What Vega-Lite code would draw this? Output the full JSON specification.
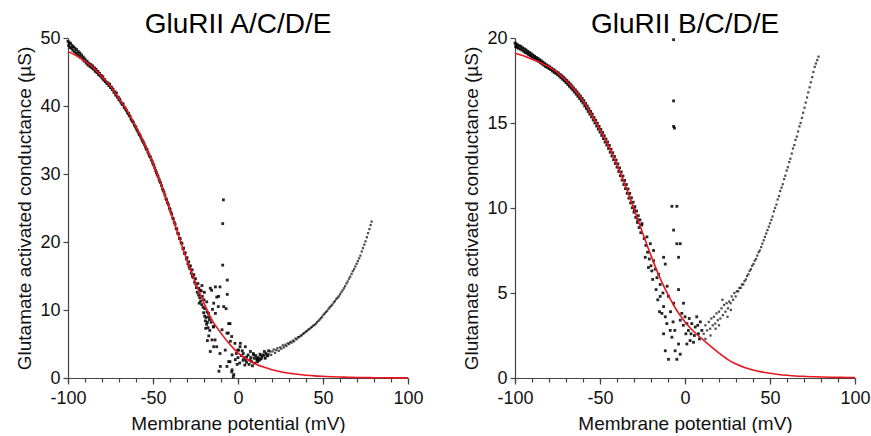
{
"$schema":"https://vega.github.io/schema/vega-lite/v6.json",
"padding":{"left":15,"top":11,"right":2,"bottom":0},
"background":"white",
"spacing":38,
"config":{
"view":{"stroke":null},
"font":"Liberation Sans",
"axis":{"grid":false,"domainColor":"#444","tickColor":"#444","domainWidth":1.2,"tickWidth":1.2,"labelColor":"#111","titleColor":"#111","labelFont":"Liberation Sans","titleFont":"Liberation Sans","labelFontSize":18,"titleFontSize":19,"titleFontWeight":"normal","tickSize":5,"labelFlush":false,"labelOverlap":false},
"title":{"fontSize":28,"fontWeight":"normal","font":"Liberation Sans","color":"#000","offset":-10,"anchor":"middle"}
},
"datasets":{
"fitA":[{"v":-100,"g":48.0},{"v":-95,"g":47.4},{"v":-90,"g":46.6},{"v":-85,"g":45.6},{"v":-80,"g":44.3},{"v":-75,"g":42.9},{"v":-70,"g":41.1},{"v":-65,"g":39.2},{"v":-60,"g":36.9},{"v":-55,"g":34.4},{"v":-50,"g":31.6},{"v":-45,"g":28.3},{"v":-40,"g":24.7},{"v":-35,"g":21.0},{"v":-30,"g":17.3},{"v":-25,"g":14.0},{"v":-20,"g":11.0},{"v":-15,"g":8.4},{"v":-10,"g":6.6},{"v":-5,"g":5.0},{"v":0,"g":3.7},{"v":5,"g":2.8},{"v":10,"g":2.1},{"v":15,"g":1.6},{"v":20,"g":1.22},{"v":25,"g":0.93},{"v":30,"g":0.71},{"v":35,"g":0.54},{"v":40,"g":0.41},{"v":45,"g":0.31},{"v":50,"g":0.24},{"v":55,"g":0.18},{"v":60,"g":0.14},{"v":65,"g":0.1},{"v":70,"g":0.078},{"v":75,"g":0.058},{"v":80,"g":0.044},{"v":85,"g":0.033},{"v":90,"g":0.025},{"v":95,"g":0.019},{"v":100,"g":0.014}],
"fitB":[{"v":-100,"g":19.1},{"v":-95,"g":18.95},{"v":-90,"g":18.75},{"v":-85,"g":18.55},{"v":-80,"g":18.3},{"v":-75,"g":17.95},{"v":-70,"g":17.5},{"v":-65,"g":16.95},{"v":-60,"g":16.3},{"v":-55,"g":15.5},{"v":-50,"g":14.6},{"v":-45,"g":13.65},{"v":-40,"g":12.55},{"v":-35,"g":11.3},{"v":-30,"g":9.95},{"v":-25,"g":8.55},{"v":-20,"g":7.2},{"v":-15,"g":5.95},{"v":-10,"g":4.9},{"v":-5,"g":4.0},{"v":0,"g":3.3},{"v":5,"g":2.75},{"v":10,"g":2.3},{"v":15,"g":1.88},{"v":20,"g":1.47},{"v":25,"g":1.1},{"v":30,"g":0.82},{"v":35,"g":0.62},{"v":40,"g":0.47},{"v":45,"g":0.36},{"v":50,"g":0.28},{"v":55,"g":0.21},{"v":60,"g":0.16},{"v":65,"g":0.12},{"v":70,"g":0.095},{"v":75,"g":0.075},{"v":80,"g":0.06},{"v":85,"g":0.048},{"v":90,"g":0.04},{"v":95,"g":0.033},{"v":100,"g":0.028}],
"ptsA":[
{"v":-100,"g":49.5},{"v":-99.6,"g":48.9},{"v":-99.2,"g":49.3},{"v":-98.8,"g":48.6},{"v":-98.5,"g":49.2},{"v":-98,"g":48.5},{"v":-97.6,"g":48.9},{"v":-97.2,"g":48.2},{"v":-96.8,"g":48.7},{"v":-96.3,"g":48.0},{"v":-95.9,"g":48.5},{"v":-95.4,"g":47.8},{"v":-95,"g":48.3},{"v":-94.5,"g":47.6},{"v":-94,"g":48.0},{"v":-93.4,"g":47.4},{"v":-93,"g":47.8},{"v":-92.5,"g":47.1},{"v":-92,"g":47.5},{"v":-91.4,"g":46.9},{"v":-91,"g":47.2},{"v":-90.5,"g":46.6},{"v":-90,"g":46.9},{"v":-89.3,"g":46.3},{"v":-88.8,"g":46.6},{"v":-88.2,"g":46.0},{"v":-87.7,"g":46.3},{"v":-87,"g":45.8},{"v":-86.6,"g":46.1},{"v":-86,"g":45.6},{"v":-85.5,"g":45.9},{"v":-85,"g":45.4},{"v":-84.4,"g":45.6},{"v":-84,"g":45.1},{"v":-83.5,"g":45.4},{"v":-83,"g":44.9},{"v":-82.4,"g":45.1},{"v":-82,"g":44.6},{"v":-81.5,"g":44.8},{"v":-81,"g":44.4},{"v":-80.4,"g":44.5},{"v":-80,"g":44.1},{"v":-79.5,"g":44.3},{"v":-79,"g":43.8},{"v":-78.4,"g":43.9},{"v":-78,"g":43.6},{"v":-77.5,"g":43.5},{"v":-77,"g":43.3},{"v":-76.5,"g":43.4},{"v":-76,"g":43.0},{"v":-75.5,"g":43.2},{"v":-75,"g":42.7},{"v":-74.5,"g":42.8},{"v":-74,"g":42.4},{"v":-73.5,"g":42.5},{"v":-73,"g":42.0},{"v":-72.4,"g":42.1},{"v":-72,"g":41.6},{"v":-71.5,"g":41.9},{"v":-71,"g":41.3},{"v":-70.4,"g":41.3},{"v":-70,"g":40.9},{"v":-69.5,"g":41.0},{"v":-69,"g":40.6},{"v":-68.4,"g":40.4},{"v":-68,"g":40.2},{"v":-67.5,"g":40.3},{"v":-67,"g":39.8},{"v":-66.4,"g":39.7},{"v":-66,"g":39.5},{"v":-65.5,"g":39.3},{"v":-65,"g":39.0},{"v":-64.4,"g":38.9},{"v":-64,"g":38.6},{"v":-63.5,"g":38.5},{"v":-63,"g":38.1},{"v":-62.4,"g":37.9},{"v":-62,"g":37.7},{"v":-61.5,"g":37.6},{"v":-61,"g":37.2},{"v":-60.4,"g":37.0},{"v":-60,"g":36.8},{"v":-59.5,"g":36.5},{"v":-59,"g":36.3},{"v":-58.4,"g":36.0},{"v":-58,"g":35.8},{"v":-57.5,"g":35.6},{"v":-57,"g":35.3},{"v":-56.4,"g":35.0},{"v":-56,"g":34.8},{"v":-55.5,"g":34.6},{"v":-55,"g":34.3},{"v":-54.4,"g":34.0},{"v":-54,"g":33.7},{"v":-53.5,"g":33.6},{"v":-53,"g":33.2},{"v":-52.4,"g":32.9},{"v":-52,"g":32.6},{"v":-51.5,"g":32.5},{"v":-51,"g":32.1},{"v":-50.4,"g":31.8},{"v":-50,"g":31.5},{"v":-49.5,"g":31.3},{"v":-49,"g":30.9},{"v":-48.4,"g":30.5},{"v":-48,"g":30.2},{"v":-47.5,"g":29.9},{"v":-47,"g":29.6},{"v":-46.4,"g":29.2},{"v":-46,"g":28.9},{"v":-45.5,"g":28.7},{"v":-45,"g":28.3},{"v":-44.4,"g":27.8},{"v":-44,"g":27.6},{"v":-43.5,"g":27.3},{"v":-43,"g":26.9},{"v":-42.4,"g":26.4},{"v":-42,"g":26.2},{"v":-41.5,"g":25.8},{"v":-41,"g":25.5},{"v":-40.4,"g":25.0},{"v":-40,"g":24.8},{"v":-39.5,"g":24.4},{"v":-39,"g":24.1},{"v":-38.4,"g":23.5},{"v":-38,"g":23.4},{"v":-37.5,"g":22.9},{"v":-37,"g":22.6},{"v":-36.4,"g":22.0},{"v":-36,"g":21.9},{"v":-35.5,"g":21.3},{"v":-35,"g":21.2},{"v":-34.4,"g":20.5},{"v":-34,"g":20.5},{"v":-33.5,"g":19.9},{"v":-33,"g":19.8},{"v":-32.4,"g":19.0},{"v":-32,"g":19.1},{"v":-31.5,"g":18.3},{"v":-31,"g":18.4},{"v":-30.4,"g":17.5},{"v":-30,"g":17.7},{"v":-29.5,"g":16.8},{"v":-29,"g":17.1},{"v":-28.4,"g":16.1},{"v":-28.8,"g":16.4},{"v":-28,"g":16.5},{"v":-27.5,"g":15.4},{"v":-27,"g":15.9},{"v":-26.4,"g":14.8},{"v":-26.8,"g":15.0},{"v":-26,"g":15.2},{"v":-25.5,"g":14.1},{"v":-25,"g":14.6},{"v":-24.5,"g":13.3},{"v":-24.8,"g":13.8},
{"v":-24,"g":12.6},{"v":-23.6,"g":13.9},{"v":-23.2,"g":12.2},{"v":-23,"g":13.2},{"v":-22.5,"g":11.8},{"v":-22.2,"g":12.9},{"v":-22,"g":11.3},{"v":-21.6,"g":12.8},{"v":-21.3,"g":10.8},{"v":-21,"g":12.0},{"v":-20.5,"g":10.4},{"v":-20.2,"g":9.6},{"v":-20,"g":11.5},{"v":-19.6,"g":9.1},{"v":-19.2,"g":8.4},{"v":-19.5,"g":10.2},{"v":-18.8,"g":8.9},{"v":-18.5,"g":7.9},{"v":-18.2,"g":9.7},{"v":-18,"g":8.2},{"v":-17.6,"g":7.4},{"v":-17.3,"g":9.0},
{"v":-22.8,"g":11.0},{"v":-21.2,"g":13.6},{"v":-19.8,"g":12.6},{"v":-18.4,"g":11.2},{"v":-17.2,"g":6.2},{"v":-16.6,"g":7.0},{"v":-15.8,"g":8.2},{"v":-15,"g":10.1},{"v":-18,"g":5.5},{"v":-16.8,"g":8.6},{"v":-19,"g":7.3},
{"v":-16.3,"g":13.2},{"v":-13.3,"g":13.4},{"v":-11.4,"g":12.0},{"v":-8.4,"g":10.5},{"v":-14.3,"g":11.0},{"v":-17.3,"g":9.5},{"v":-13.3,"g":9.5},{"v":-14.3,"g":7.6},{"v":-15.3,"g":5.6},{"v":-14.3,"g":4.6},{"v":-16.3,"g":3.9},{"v":-9.4,"g":7.1},{"v":-5.5,"g":8.0},{"v":-6.5,"g":6.6},{"v":-4.5,"g":5.4},{"v":-7.5,"g":4.1},{"v":-3.5,"g":3.4},{"v":-6.5,"g":1.7},{"v":-10.4,"g":1.7},{"v":-3.5,"g":1.2},{"v":-2.5,"g":0.5},{"v":-5.5,"g":2.4},{"v":-1.6,"g":2.7},{"v":0.4,"g":4.1},{"v":1.4,"g":5.1},{"v":4.3,"g":4.6},{"v":7.3,"g":3.9},{"v":9.2,"g":3.4},{"v":11.2,"g":2.7},
{"v":-15.5,"g":12.9},{"v":-10.6,"g":13.4},{"v":-12.5,"g":11.9},{"v":-11.6,"g":10.5},{"v":-14.5,"g":7.5},{"v":-13.5,"g":5.6},{"v":-12.5,"g":4.6},{"v":-10.6,"g":3.6},{"v":-11.2,"g":1.0},{"v":-4.7,"g":2.4},{"v":-3.7,"g":0.9},{"v":-2.8,"g":0.2},{"v":-4.7,"g":8.0},{"v":-5.7,"g":6.6},{"v":-3.7,"g":6.1},{"v":-1.8,"g":5.1},{"v":-0.2,"g":4.1},{"v":3.1,"g":3.6},{"v":7.1,"g":2.6},{"v":11,"g":2.9},{"v":14.9,"g":3.4},{"v":9.0,"g":3.6},{"v":5.1,"g":3.1},{"v":1.2,"g":4.6},
{"v":-8.6,"g":26.2},{"v":-9.0,"g":22.7},{"v":-9.0,"g":16.6},{"v":-6.3,"g":14.4},{"v":-6.3,"g":12.3},{"v":-7.0,"g":10.2},
{"v":0,"g":3.0},{"v":1,"g":2.2},{"v":2,"g":3.3},{"v":3,"g":2.6},{"v":4,"g":1.9},{"v":5,"g":2.3},{"v":6,"g":3.4},{"v":6.5,"g":2.0},{"v":7.5,"g":3.0},{"v":8,"g":2.4},{"v":8.5,"g":1.8},{"v":9.5,"g":2.9},{"v":10,"g":2.2},{"v":10.5,"g":3.3},{"v":11.5,"g":2.4},{"v":12,"g":3.0},{"v":12.5,"g":2.6},{"v":13,"g":3.5},{"v":13.5,"g":2.8},{"v":14,"g":3.2},{"v":15.5,"g":3.9},{"v":16,"g":2.9},{"v":16.5,"g":3.5},{"v":17.5,"g":3.3},{"v":18,"g":4.0},{"v":-1,"g":3.6},{"v":-0.5,"g":2.0},{"v":2.5,"g":4.0},{"v":3.5,"g":3.0},{"v":4.5,"g":2.7}
],
"branchA":[
{"v":12,"g":2.7},{"v":13,"g":3.4},{"v":14,"g":2.9},{"v":15,"g":3.3},{"v":15.8,"g":3.0},{"v":16.5,"g":3.7},{"v":17.2,"g":3.2},{"v":18,"g":3.5},{"v":18.8,"g":3.9},{"v":19.5,"g":3.4},{"v":20.2,"g":3.9},{"v":21,"g":4.2},{"v":21.8,"g":3.7},{"v":22.5,"g":4.1},{"v":23.2,"g":4.4},{"v":24,"g":4.0},{"v":24.8,"g":4.5},{"v":25.5,"g":4.3},{"v":26.3,"g":4.8},{"v":27,"g":4.5},{"v":27.8,"g":4.9},{"v":28.5,"g":4.7},{"v":29.3,"g":5.1},{"v":30,"g":5.0},{"v":30.8,"g":5.3},{"v":31.5,"g":5.2},{"v":32.3,"g":5.5},{"v":33,"g":5.4},{"v":33.8,"g":5.8},{"v":34.5,"g":5.7},{"v":35.3,"g":6.0},{"v":36,"g":6.0},{"v":36.8,"g":6.2},{"v":37.5,"g":6.3},{"v":38.3,"g":6.5},{"v":39,"g":6.6},{"v":39.8,"g":6.8},{"v":40.5,"g":6.9},{"v":41.3,"g":7.1},{"v":42,"g":7.2},{"v":42.8,"g":7.4},{"v":43.5,"g":7.5},{"v":44.3,"g":7.7},{"v":45,"g":7.8},{"v":45.8,"g":8.0},{"v":46.5,"g":8.2},{"v":47.3,"g":8.4},{"v":48,"g":8.6},{"v":48.8,"g":8.8},{"v":49.5,"g":9.0},{"v":50.3,"g":9.3},{"v":51,"g":9.5},{"v":51.8,"g":9.7},{"v":52.5,"g":9.9},{"v":53.3,"g":10.2},{"v":54,"g":10.4},{"v":54.8,"g":10.6},{"v":55.5,"g":10.8},{"v":56.3,"g":11.1},{"v":57,"g":11.3},{"v":57.8,"g":11.6},{"v":58.5,"g":11.8},{"v":59.3,"g":12.0},{"v":60,"g":12.3},{"v":60.8,"g":12.6},{"v":61.5,"g":12.9},{"v":62.3,"g":13.2},{"v":63,"g":13.5},{"v":63.8,"g":13.9},{"v":64.5,"g":14.2},{"v":65.3,"g":14.6},{"v":66,"g":14.9},{"v":66.8,"g":15.3},{"v":67.5,"g":15.7},{"v":68.3,"g":16.0},{"v":69,"g":16.4},{"v":69.8,"g":16.8},{"v":70.5,"g":17.2},{"v":71.3,"g":17.6},{"v":72,"g":18.0},{"v":72.8,"g":18.6},{"v":73.5,"g":19.1},{"v":74.3,"g":19.6},{"v":75,"g":20.1},{"v":75.8,"g":20.7},{"v":76.5,"g":21.3},{"v":77.3,"g":21.9},{"v":78,"g":22.5},{"v":78.6,"g":23.0}
],
"ptsB":[
{"v":-100,"g":19.7},{"v":-99.6,"g":19.5},{"v":-99.3,"g":19.65},{"v":-99,"g":19.45},{"v":-98.6,"g":19.6},{"v":-98,"g":19.4},{"v":-97.5,"g":19.55},{"v":-97,"g":19.35},{"v":-96.5,"g":19.5},{"v":-96,"g":19.3},{"v":-95.5,"g":19.42},{"v":-95,"g":19.22},{"v":-94.5,"g":19.36},{"v":-94,"g":19.15},{"v":-93.5,"g":19.3},{"v":-93,"g":19.1},{"v":-92.5,"g":19.22},{"v":-92,"g":19.02},{"v":-91.5,"g":19.15},{"v":-91,"g":18.96},{"v":-90.5,"g":19.08},{"v":-90,"g":18.88},{"v":-89.5,"g":19.0},{"v":-89,"g":18.82},{"v":-88.5,"g":18.93},{"v":-88,"g":18.75},{"v":-87.5,"g":18.86},{"v":-87,"g":18.68},{"v":-86.5,"g":18.8},{"v":-86,"g":18.62},{"v":-85.5,"g":18.72},{"v":-85,"g":18.54},{"v":-84.5,"g":18.66},{"v":-84,"g":18.47},{"v":-83.5,"g":18.58},{"v":-83,"g":18.4},{"v":-82.5,"g":18.5},{"v":-82,"g":18.32},{"v":-81.5,"g":18.42},{"v":-81,"g":18.27},{"v":-80.5,"g":18.36},{"v":-80,"g":18.2},{"v":-79.5,"g":18.3},{"v":-79,"g":18.14},{"v":-78.5,"g":18.22},{"v":-78,"g":18.06},{"v":-77.5,"g":18.15},{"v":-77,"g":17.98},{"v":-76.5,"g":18.08},{"v":-76,"g":17.92},{"v":-75.5,"g":18.0},{"v":-75,"g":17.85},{"v":-74.5,"g":17.95},{"v":-74,"g":17.76},{"v":-73.5,"g":17.86},{"v":-73,"g":17.66},{"v":-72.5,"g":17.78},{"v":-72,"g":17.57},{"v":-71.5,"g":17.7},{"v":-71,"g":17.48},{"v":-70.5,"g":17.6},{"v":-70,"g":17.38},{"v":-69.5,"g":17.5},{"v":-69,"g":17.27},{"v":-68.5,"g":17.4},{"v":-68,"g":17.16},{"v":-67.5,"g":17.3},{"v":-67,"g":17.05},{"v":-66.5,"g":17.18},{"v":-66,"g":16.94},{"v":-65.5,"g":17.06},{"v":-65,"g":16.82},{"v":-64.5,"g":16.95},{"v":-64,"g":16.7},{"v":-63.5,"g":16.83},{"v":-63,"g":16.57},{"v":-62.5,"g":16.7},{"v":-62,"g":16.44},{"v":-61.5,"g":16.58},{"v":-61,"g":16.3},{"v":-60.5,"g":16.45},{"v":-60,"g":16.17},{"v":-59.5,"g":16.32},{"v":-59,"g":16.0},{"v":-58.5,"g":16.15},{"v":-58,"g":15.85},{"v":-57.5,"g":16.0},{"v":-57,"g":15.68},{"v":-56.5,"g":15.84},{"v":-56,"g":15.52},{"v":-55.5,"g":15.68},{"v":-55,"g":15.36},{"v":-54.5,"g":15.52},{"v":-54,"g":15.18},{"v":-53.5,"g":15.33},{"v":-53,"g":15.0},{"v":-52.5,"g":15.16},{"v":-52,"g":14.82},{"v":-51.5,"g":14.98},{"v":-51,"g":14.64},{"v":-50.5,"g":14.8},{"v":-50,"g":14.46},{"v":-49.5,"g":14.62},{"v":-49,"g":14.27},{"v":-48.5,"g":14.44},{"v":-48,"g":14.08},{"v":-47.5,"g":14.25},{"v":-47,"g":13.88},{"v":-46.5,"g":14.06},{"v":-46,"g":13.7},{"v":-45.5,"g":13.88},{"v":-45,"g":13.5},{"v":-44.5,"g":13.68},{"v":-44,"g":13.28},{"v":-43.5,"g":13.46},{"v":-43,"g":13.06},{"v":-42.5,"g":13.25},{"v":-42,"g":12.84},{"v":-41.5,"g":13.03},{"v":-41,"g":12.62},{"v":-40.5,"g":12.82},{"v":-40,"g":12.4},{"v":-39.5,"g":12.6},{"v":-39,"g":12.15},{"v":-38.5,"g":12.36},{"v":-38,"g":11.9},{"v":-37.5,"g":12.12},{"v":-37,"g":11.64},{"v":-36.5,"g":11.88},{"v":-36,"g":11.38},{"v":-35.5,"g":11.62},{"v":-35,"g":11.14},{"v":-34.5,"g":11.38},{"v":-34,"g":10.86},{"v":-33.5,"g":11.12},{"v":-33,"g":10.58},{"v":-32.5,"g":10.86},{"v":-32,"g":10.3},{"v":-31.5,"g":10.6},{"v":-31,"g":10.02},{"v":-30.5,"g":10.34},{"v":-30,"g":9.75},{"v":-29.5,"g":10.08},{"v":-29.8,"g":9.9},{"v":-29,"g":9.45},{"v":-28.5,"g":9.82},{"v":-28,"g":9.15},{"v":-27.5,"g":9.55},{"v":-27.8,"g":9.3},{"v":-27,"g":8.85},{"v":-26.5,"g":9.3},{"v":-26,"g":8.55},{"v":-25.5,"g":9.0},
{"v":-25.3,"g":9.08},{"v":-22.4,"g":8.3},{"v":-20.4,"g":7.9},{"v":-18.5,"g":7.5},{"v":-23.4,"g":7.1},{"v":-18.5,"g":6.9},{"v":-19.5,"g":6.3},{"v":-16.5,"g":5.9},{"v":-14.6,"g":5.5},{"v":-12.6,"g":7.1},{"v":-11.6,"g":6.7},{"v":-14.6,"g":4.8},{"v":-12.6,"g":4.2},{"v":-13.6,"g":3.8},{"v":-11.6,"g":3.6},{"v":-10.7,"g":3.2},{"v":-12.6,"g":2.6},{"v":-8.7,"g":2.8},{"v":-11.6,"g":1.6},{"v":-9.7,"g":1.1},{"v":-4.8,"g":1.1},{"v":-5.8,"g":1.6},{"v":-3.8,"g":2.0},{"v":-2.8,"g":3.4},{"v":-1.9,"g":3.8},{"v":-0.9,"g":4.4},{"v":-3.8,"g":5.2},{"v":1.1,"g":3.2},{"v":2.0,"g":2.8},{"v":4.0,"g":3.2},{"v":3.0,"g":2.2},{"v":6.0,"g":3.0},{"v":6.9,"g":3.6},{"v":7.9,"g":2.6},{"v":5.0,"g":2.1},{"v":1.1,"g":2.0},{"v":9.9,"g":2.8},{"v":-2.8,"g":1.4},{"v":-7.7,"g":2.4},{"v":-6.7,"g":4.4},{"v":-9.7,"g":4.8},{"v":-4.8,"g":7.9},{"v":-3.8,"g":7.1},{"v":-7.7,"g":10.1},{"v":-4.8,"g":10.1},{"v":-6.7,"g":8.7},{"v":-2.8,"g":7.9},
{"v":-24,"g":8.2},{"v":-23,"g":7.8},{"v":-22,"g":7.4},{"v":-21,"g":7.0},{"v":-21.5,"g":6.5},{"v":-20,"g":6.6},{"v":-19,"g":5.8},{"v":-17.5,"g":6.4},{"v":-17,"g":5.2},{"v":-16,"g":4.6},{"v":-15.5,"g":6.1},{"v":-15,"g":3.9},{"v":-13,"g":5.0},{"v":-10.5,"g":5.4},{"v":-8.5,"g":3.9},{"v":-7,"g":3.3},{"v":-6,"g":2.8},{"v":-1,"g":3.1},{"v":0,"g":3.6},{"v":0.5,"g":2.6},{"v":2.5,"g":3.5},{"v":3.5,"g":2.6},{"v":5.5,"g":2.5},{"v":7.5,"g":3.1},{"v":8.5,"g":2.3},{"v":9,"g":3.3},
{"v":-6.7,"g":19.9},{"v":-6.7,"g":16.3},{"v":-6.7,"g":14.8},{"v":-6.2,"g":14.7}
],
"branchB":[
{"v":11,"g":2.6},{"v":12,"g":3.1},{"v":13,"g":2.8},{"v":14,"g":3.3},{"v":14.8,"g":2.9},{"v":15.5,"g":3.5},{"v":16.3,"g":3.1},{"v":17,"g":3.6},{"v":17.8,"g":3.2},{"v":18.5,"g":3.8},{"v":19.3,"g":3.4},{"v":20,"g":3.9},{"v":20.8,"g":3.5},{"v":21.5,"g":4.1},{"v":22.3,"g":3.7},{"v":23,"g":4.3},{"v":23.8,"g":3.9},{"v":24.5,"g":4.4},{"v":25.3,"g":4.1},{"v":26,"g":4.5},{"v":26.8,"g":4.4},{"v":27.5,"g":4.8},{"v":28.3,"g":4.6},{"v":29,"g":5.0},{"v":29.8,"g":4.8},{"v":30.5,"g":5.1},{"v":31.3,"g":5.1},{"v":32,"g":5.3},{"v":32.8,"g":5.3},{"v":33.5,"g":5.5},{"v":34.3,"g":5.5},{"v":35,"g":5.7},{"v":35.8,"g":5.8},{"v":36.5,"g":6.0},{"v":37.3,"g":6.1},{"v":38,"g":6.3},{"v":38.8,"g":6.4},{"v":39.5,"g":6.6},{"v":40.3,"g":6.7},{"v":41,"g":6.9},{"v":41.8,"g":7.0},{"v":42.5,"g":7.2},{"v":43.3,"g":7.4},{"v":44,"g":7.5},{"v":44.8,"g":7.7},{"v":45.5,"g":7.9},{"v":46.3,"g":8.1},{"v":47,"g":8.3},{"v":47.8,"g":8.5},{"v":48.5,"g":8.7},{"v":49.3,"g":8.9},{"v":50,"g":9.1},{"v":50.8,"g":9.3},{"v":51.5,"g":9.5},{"v":52.3,"g":9.8},{"v":53,"g":10.0},{"v":53.8,"g":10.2},{"v":54.5,"g":10.5},{"v":55.3,"g":10.7},{"v":56,"g":11.0},{"v":56.8,"g":11.2},{"v":57.5,"g":11.4},{"v":58.3,"g":11.7},{"v":59,"g":11.9},{"v":59.8,"g":12.2},{"v":60.5,"g":12.4},{"v":61.3,"g":12.7},{"v":62,"g":12.9},{"v":62.8,"g":13.2},{"v":63.5,"g":13.5},{"v":64.3,"g":13.7},{"v":65,"g":14.0},{"v":65.8,"g":14.2},{"v":66.5,"g":14.5},{"v":67.3,"g":14.8},{"v":68,"g":15.0},{"v":68.8,"g":15.3},{"v":69.5,"g":15.6},{"v":70.3,"g":15.9},{"v":71,"g":16.2},{"v":71.8,"g":16.5},{"v":72.5,"g":16.8},{"v":73.3,"g":17.1},{"v":74,"g":17.4},{"v":74.8,"g":17.7},{"v":75.5,"g":18.0},{"v":76.3,"g":18.3},{"v":77,"g":18.5},{"v":77.8,"g":18.7},{"v":78.5,"g":18.9},
{"v":22,"g":4.6},{"v":25,"g":3.6},{"v":15,"g":2.5},{"v":18,"g":2.9},{"v":12,"g":2.3},{"v":20,"g":3.1},{"v":27,"g":4.0}
]
},
"hconcat":[
{"width":340,"height":340,"title":"GluRII A/C/D/E",
"resolve":{"axis":{"x":"independent"}},
"layer":[
{"data":{"name":"ptsA"},"mark":{"type":"square","size":8,"color":"#000","opacity":0.85},
"encoding":{
"x":{"field":"v","type":"quantitative","scale":{"domain":[-100,100],"nice":false},"axis":{"orient":"bottom","title":"Membrane potential (mV)","values":[-100,-50,0,50,100],"labelExpr":"'' + datum.value","labelOverlap":false,"labelFlush":false,"tickSize":6,"labelPadding":5,"titlePadding":7}},
"y":{"field":"g","type":"quantitative","scale":{"domain":[0,50],"nice":false},"axis":{"title":"Glutamate activated conductance (µS)","values":[0,10,20,30,40,50],"labelOverlap":false,"labelPadding":3,"titlePadding":5}}}},
{"data":{"name":"branchA"},"mark":{"type":"square","size":5,"color":"#000","opacity":0.7},
"encoding":{"x":{"field":"v","type":"quantitative","axis":null},"y":{"field":"g","type":"quantitative"}}},
{"data":{"name":"fitA"},"mark":{"type":"line","color":"#e8161e","strokeWidth":1.6,"interpolate":"monotone"},
"encoding":{"x":{"field":"v","type":"quantitative","axis":{"orient":"bottom","values":[-100,-90,-80,-70,-60,-50,-40,-30,-20,-10,0,10,20,30,40,50,60,70,80,90,100],"labels":false,"title":null,"domain":false,"tickSize":4}},"y":{"field":"g","type":"quantitative"}}}
]},
{"width":340,"height":340,"title":"GluRII B/C/D/E",
"resolve":{"axis":{"x":"independent"}},
"layer":[
{"data":{"name":"ptsB"},"mark":{"type":"square","size":8,"color":"#000","opacity":0.85},
"encoding":{
"x":{"field":"v","type":"quantitative","scale":{"domain":[-100,100],"nice":false},"axis":{"orient":"bottom","title":"Membrane potential (mV)","values":[-100,-50,0,50,100],"labelExpr":"'' + datum.value","labelOverlap":false,"labelFlush":false,"tickSize":6,"labelPadding":5,"titlePadding":7}},
"y":{"field":"g","type":"quantitative","scale":{"domain":[0,20],"nice":false},"axis":{"title":"Glutamate activated conductance (µS)","values":[0,5,10,15,20],"labelOverlap":false,"labelPadding":3,"titlePadding":5}}}},
{"data":{"name":"branchB"},"mark":{"type":"square","size":5,"color":"#000","opacity":0.7},
"encoding":{"x":{"field":"v","type":"quantitative","axis":null},"y":{"field":"g","type":"quantitative"}}},
{"data":{"name":"fitB"},"mark":{"type":"line","color":"#e8161e","strokeWidth":1.6,"interpolate":"monotone"},
"encoding":{"x":{"field":"v","type":"quantitative","axis":{"orient":"bottom","values":[-100,-90,-80,-70,-60,-50,-40,-30,-20,-10,0,10,20,30,40,50,60,70,80,90,100],"labels":false,"title":null,"domain":false,"tickSize":4}},"y":{"field":"g","type":"quantitative"}}}
]}
]
}
